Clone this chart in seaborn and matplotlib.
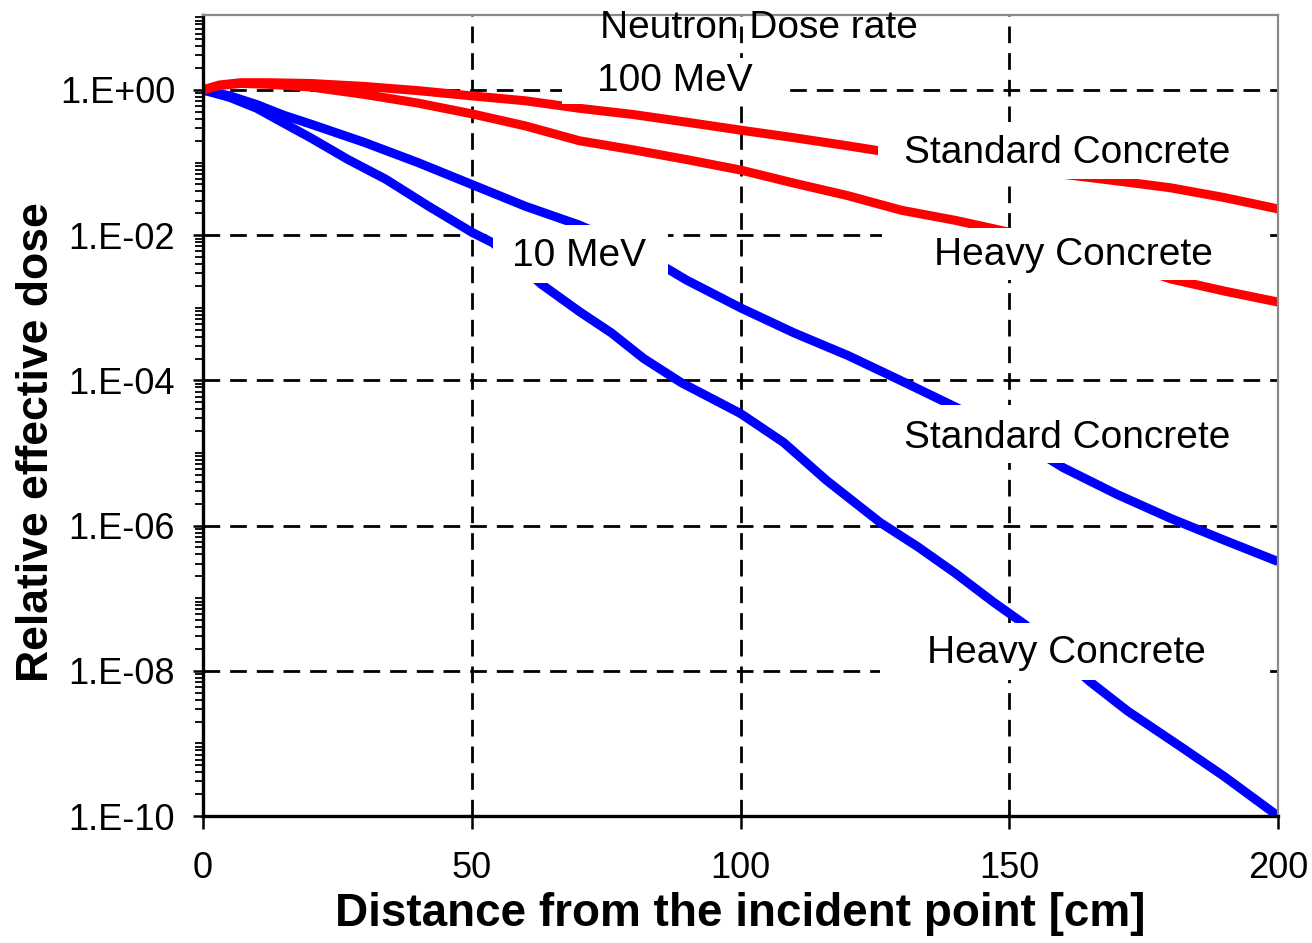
import numpy as np
import pandas as pd
import matplotlib
matplotlib.use("Agg")
import matplotlib.pyplot as plt
import seaborn as sns
from matplotlib.ticker import FixedLocator, LogLocator, NullFormatter, FuncFormatter
from matplotlib.patches import Rectangle

# ---------------- data ----------------
x_red_std = [0, 3, 7, 12, 20, 30, 40, 50, 60, 70, 80, 90, 100, 110, 120, 130, 140, 150, 160, 170, 180, 190, 200]
y_red_std = [1.0, 1.17, 1.26, 1.26, 1.23, 1.12, 0.98, 0.83, 0.71, 0.56, 0.46, 0.36, 0.28, 0.22, 0.17,
             0.13, 0.11, 0.085, 0.069, 0.056, 0.045, 0.033, 0.023]

x_red_hvy = [0, 3, 7, 12, 20, 30, 40, 50, 60, 70, 80, 90, 100, 110, 120, 130, 140, 150, 160, 170, 180, 190, 200]
y_red_hvy = [1.0, 1.15, 1.23, 1.2, 1.1, 0.87, 0.66, 0.47, 0.32, 0.20, 0.15, 0.11, 0.079, 0.052, 0.035,
             0.022, 0.016, 0.011, 0.0071, 0.0045, 0.0025, 0.0017, 0.0012]

x_blue_std = [0, 5, 10, 15, 20, 30, 40, 50, 60, 70, 80, 90, 100, 110, 120, 130, 140, 150, 160, 170, 180, 190, 200]
y_blue_std = [1.0, 0.83, 0.63, 0.45, 0.34, 0.19, 0.1, 0.05, 0.025, 0.0138, 0.0066, 0.0024, 1.0e-3, 4.5e-4,
              2.2e-4, 9.8e-5, 4.3e-5, 1.8e-5, 6.3e-6, 2.7e-6, 1.26e-6, 6.3e-7, 3.2e-7]

x_blue_hvy = [0, 5, 10, 15, 20, 27, 34, 42, 50, 54, 63, 70, 76, 82, 89, 100, 108, 116, 126, 133, 140, 147,
              153, 165, 172, 182, 190, 200]
y_blue_hvy = [1.0, 0.79, 0.56, 0.35, 0.22, 0.11, 0.059, 0.025, 0.011, 0.0078, 0.0021, 8.9e-4, 4.5e-4, 2.0e-4,
              9.3e-5, 3.5e-5, 1.4e-5, 4.2e-6, 1.1e-6, 5.1e-7, 2.2e-7, 8.9e-8, 4.3e-8, 7.1e-9, 2.8e-9,
              8.9e-10, 3.5e-10, 1.0e-10]

x_ticks = [0, 50, 100, 150, 200]
y_major = [1e-10, 1e-8, 1e-6, 1e-4, 1e-2, 1e0]

title_text = "Neutron Dose rate"
x_label = "Distance from the incident point [cm]"
y_label = "Relative effective dose"

# ---------------- style ----------------
sns.set_style("white")
plt.rcParams['font.family'] = ['Liberation Sans', 'DejaVu Sans']

W, H = 1312, 943
fig = plt.figure(figsize=(W / 100, H / 100), dpi=100)
L, R, T, B = 203, 1278, 15, 816
ax = fig.add_axes([L / W, 1 - B / H, (R - L) / W, (B - T) / H])

def fx(px):
    return (px - L) / (R - L)

def fy(py):
    return (B - py) / (B - T)

series = [
    (x_blue_std, y_blue_std, "#0000FF"),
    (x_blue_hvy, y_blue_hvy, "#0000FF"),
    (x_red_hvy, y_red_hvy, "#FF0000"),
    (x_red_std, y_red_std, "#FF0000"),
]
for xs, ys, col in series:
    sns.lineplot(x=xs, y=ys, color=col, linewidth=6.5, ax=ax, sort=False, estimator=None,
                 solid_capstyle='butt', solid_joinstyle='round', zorder=3)

ax.set_yscale('log')
ax.set_xlim(0, 200)
ax.set_ylim(1e-10, 10 ** 1.033)

ax.xaxis.set_major_locator(FixedLocator(x_ticks))
ax.yaxis.set_major_locator(FixedLocator(y_major))
ax.yaxis.set_minor_locator(LogLocator(base=10, subs=np.arange(1, 10), numticks=200))
ax.yaxis.set_minor_formatter(NullFormatter())
ax.yaxis.set_major_formatter(FuncFormatter(lambda v, p: "1.E{:+03d}".format(int(round(np.log10(v))))))

ax.set_axisbelow(True)
ax.grid(True, which='major', color='black', linewidth=2.0, linestyle=(0, (6, 3.6)))
xt = ax.xaxis.get_major_ticks()
xt[0].gridline.set_visible(False)
xt[-1].gridline.set_visible(False)
yt = ax.yaxis.get_major_ticks()
yt[0].gridline.set_visible(False)

ax.tick_params(axis='y', which='major', direction='out', length=7, width=1.8, labelsize=26, pad=13,
               left=True, colors='black')
ax.tick_params(axis='y', which='minor', direction='out', length=5.5, width=1.3, left=True, colors='black')
ax.tick_params(axis='x', which='major', direction='out', length=9, width=1.8, labelsize=26, pad=16,
               bottom=True, colors='black')

for s in ['left', 'bottom']:
    ax.spines[s].set_color('black')
    ax.spines[s].set_linewidth(2.4)
for s in ['top', 'right']:
    ax.spines[s].set_color('#8a8a8a')
    ax.spines[s].set_linewidth(1.6)
for s in ax.spines.values():
    s.set_zorder(6)

ax.set_xlabel(x_label, fontsize=33, fontweight='bold', color='black')
ax.set_ylabel(y_label, fontsize=32, fontweight='bold', color='black')
ax.xaxis.set_label_coords(fx(740), fy(892))
ax.yaxis.set_label_coords(fx(57), fy(442))

# title inside the axes, near the top spine
ax.text(fx(759), fy(28), title_text, transform=ax.transAxes, ha='center', va='center',
        fontsize=28, color='black', zorder=7)

# annotation labels with white boxes that mask lines / grid
labels = [
    ("100 MeV", (675, 81), (562, 785, 58, 104)),
    ("10 MeV", (579, 256), (493, 668, 225, 283)),
    ("Standard Concrete", (1067, 153), (878, 1258, 122, 179)),
    ("Heavy Concrete", (1073, 255), (882, 1268, 228, 280)),
    ("Standard Concrete", (1067, 438), (880, 1255, 405, 463)),
    ("Heavy Concrete", (1066, 653), (880, 1270, 623, 680)),
]
for txt, (cx, cy), (x0, x1, y0, y1) in labels:
    ax.add_patch(Rectangle((fx(x0), fy(y1)), fx(x1) - fx(x0), fy(y0) - fy(y1),
                           transform=ax.transAxes, facecolor='white', edgecolor='none', zorder=4))
    ax.text(fx(cx), fy(cy), txt, transform=ax.transAxes, ha='center', va='center',
            fontsize=28, color='black', zorder=5)

fig.savefig("out.png", dpi=100, facecolor='white')
